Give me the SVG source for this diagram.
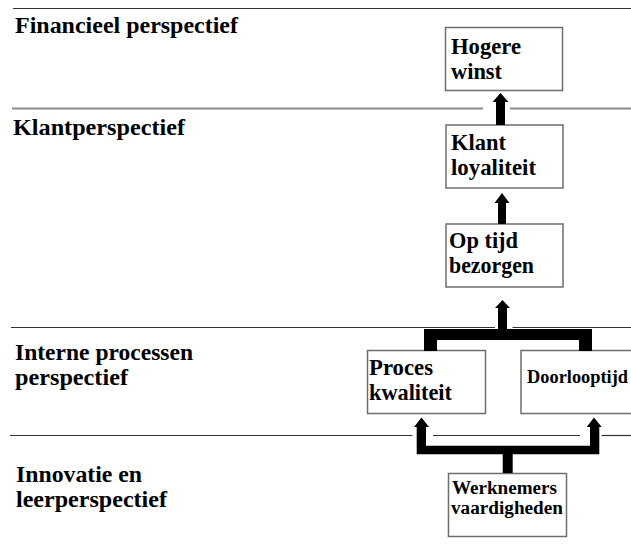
<svg xmlns="http://www.w3.org/2000/svg" width="631" height="548" viewBox="0 0 631 548" font-family="'Liberation Serif', 'DejaVu Serif', 'Noto Serif', serif">
<style>
text{font-weight:bold;fill:#000}
.lbl{font-size:23.8px}
.nt{font-size:22.5px}
.ns{font-size:18.5px}
.box{fill:#fff;stroke:#6e6e6e;stroke-width:1.5}
.sep{stroke:#333;stroke-width:1.2;fill:none}
.sep2{stroke:#8a8a8a;stroke-width:2;fill:none}
.con{fill:#000;stroke:none}
</style>
<rect width="631" height="548" fill="#fff"/>
<g id="separators">
<line class="sep" x1="13" y1="8.5" x2="631" y2="8.5"/>
<line class="sep2" x1="12" y1="108.5" x2="483" y2="108.5"/>
<line class="sep2" x1="510" y1="108.5" x2="631" y2="108.5"/>
<line class="sep" x1="11" y1="327.5" x2="495" y2="327.5"/>
<line class="sep" x1="512.5" y1="327.5" x2="631" y2="327.5"/>
<line class="sep" x1="10" y1="435.5" x2="412.5" y2="435.5"/>
<line class="sep" x1="433" y1="435.5" x2="580" y2="435.5"/>
<line class="sep" x1="601.5" y1="435.5" x2="631" y2="435.5"/>
</g>
<g id="labels" font-family="'Liberation Serif', 'DejaVu Serif', serif">
<text class="lbl" x="15" y="33" textLength="223" lengthAdjust="spacingAndGlyphs">Financieel perspectief</text>
<text class="lbl" x="13" y="135" textLength="172" lengthAdjust="spacingAndGlyphs">Klantperspectief</text>
<text class="lbl" x="15" y="360" textLength="178" lengthAdjust="spacingAndGlyphs">Interne processen</text>
<text class="lbl" x="15" y="385" textLength="113" lengthAdjust="spacingAndGlyphs">perspectief</text>
<text class="lbl" x="16" y="482" textLength="126" lengthAdjust="spacingAndGlyphs">Innovatie en</text>
<text class="lbl" x="16" y="507" textLength="151" lengthAdjust="spacingAndGlyphs">leerperspectief</text>
</g>
<g id="hogere-winst">
<rect class="box" x="445.5" y="27.5" width="117" height="63"/>
<text class="nt" x="451" y="54" textLength="70" lengthAdjust="spacingAndGlyphs">Hogere</text>
<text class="nt" x="451" y="79" textLength="51" lengthAdjust="spacingAndGlyphs">winst</text>
</g>
<g id="klant-loyaliteit">
<rect class="box" x="446" y="125" width="117" height="63"/>
<text class="nt" x="451" y="150" textLength="55" lengthAdjust="spacingAndGlyphs">Klant</text>
<text class="nt" x="451" y="175" textLength="85" lengthAdjust="spacingAndGlyphs">loyaliteit</text>
</g>
<g id="op-tijd-bezorgen">
<rect class="box" x="446" y="224" width="117" height="63"/>
<text class="nt" x="449" y="248" textLength="69" lengthAdjust="spacingAndGlyphs">Op tijd</text>
<text class="nt" x="449" y="273" textLength="85" lengthAdjust="spacingAndGlyphs">bezorgen</text>
</g>
<g id="proces-kwaliteit">
<rect class="box" x="367.5" y="350.5" width="118" height="63"/>
<text class="nt" x="369" y="375" textLength="64" lengthAdjust="spacingAndGlyphs">Proces</text>
<text class="nt" x="369" y="400" textLength="83" lengthAdjust="spacingAndGlyphs">kwaliteit</text>
</g>
<g id="doorlooptijd">
<rect class="box" x="521" y="350.5" width="115" height="63"/>
<text class="ns" x="527" y="383" textLength="101" lengthAdjust="spacingAndGlyphs">Doorlooptijd</text>
</g>
<g id="werknemers-vaardigheden">
<rect class="box" x="448.5" y="473.5" width="118" height="63"/>
<text class="ns" x="452" y="494" textLength="105" lengthAdjust="spacingAndGlyphs">Werknemers</text>
<text class="ns" x="451" y="514" textLength="112" lengthAdjust="spacingAndGlyphs">vaardigheden</text>
</g>
<g id="connectors">
<polygon class="con" points="496,125 505,125 505,102 508.5,102 500.5,93 492.5,102 496,102"/>
<polygon class="con" points="498,224 506,224 506,203 509.5,203 502,193 494.5,203 498,203"/>
<polygon class="con" points="498,308 495,308 502.5,300 510,308 507,308 507,329 592,329 592,351 579,351 579,340 437,340 437,351 424,351 424,329 498,329"/>
<polygon class="con" points="416.7,427 414,427 421.5,417.5 429,427 426,427 426,445.7 590,445.7 590,427 586.7,427 594,417.5 601.7,427 599.3,427 599.3,454.3 512.7,454.3 512.7,473 502.7,473 502.7,454.3 416.7,454.3"/>
</g>
</svg>
